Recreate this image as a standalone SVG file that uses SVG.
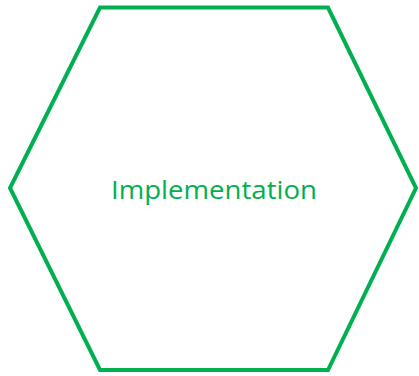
<svg xmlns="http://www.w3.org/2000/svg" width="419" height="376" viewBox="0 0 419 376">
<style>
.hex{fill:none;stroke:#00B050;stroke-width:4;stroke-linejoin:miter}
.lbl{fill:#00B050;font-family:"Open Sans","Liberation Sans",sans-serif;font-size:25px}
</style>
<rect width="419" height="376" fill="#fff"/>
<g id="node-implementation">
<polygon class="hex" points="100,7.5 328,7.5 416,188 328,370 100,370 10,188"/>
<text class="lbl" x="214" y="199" text-anchor="middle" textLength="206" lengthAdjust="spacingAndGlyphs">Implementation</text>
</g>
<g id="connectors"></g>
</svg>
